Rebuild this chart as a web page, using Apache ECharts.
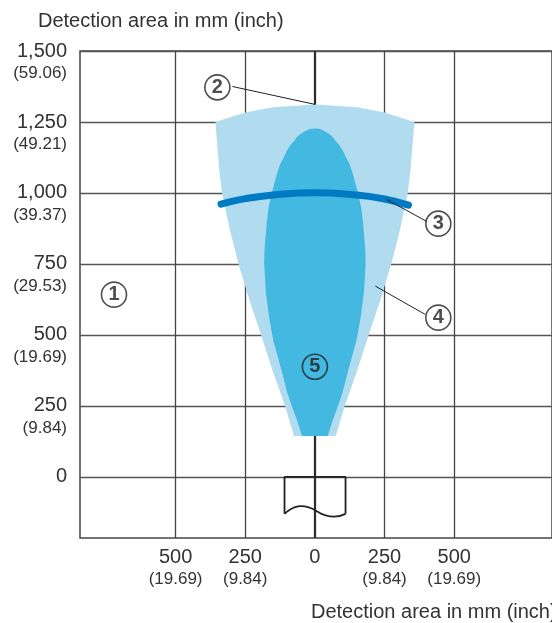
<!DOCTYPE html>
<html><head><meta charset="utf-8">
<script src="https://cdn.jsdelivr.net/npm/echarts@6/dist/echarts.min.js"></script>
<style>html,body{margin:0;padding:0;background:#fff}#c{width:552px;height:623px}</style>
</head><body><div id="c"></div>
<script>
// Tick labels
const xTickValues = [-500, -250, 0, 250, 500];
const xTickMm = ['500', '250', '0', '250', '500'];
const xTickInch = ['(19.69)', '(9.84)', '', '(9.84)', '(19.69)'];
const yTickValues = [0, 250, 500, 750, 1000, 1250, 1500];
const yTickMm = ['0', '250', '500', '750', '1,000', '1,250', '1,500'];
const yTickInch = ['', '(9.84)', '(19.69)', '(29.53)', '(39.37)', '(49.21)', '(59.06)'];

// (4) outer detection field: half width (mm) at distance (mm)
const outerY = [144, 250, 375, 500, 623, 750, 869, 1000, 1068, 1186, 1250];
const outerHalfW = [75, 107, 152, 193, 235, 274, 305, 333, 342, 352, 357];
// top boundary arc of the outer field
const outerTopX = [-357, -250, -150, 0, 150, 250, 357];
const outerTopY = [1250, 1283, 1302, 1312, 1302, 1283, 1250];

// (5) inner field: half width (mm) at distance (mm)
const innerY = [144, 200, 250, 300, 380, 480, 560, 650, 750, 800, 893, 950, 1003, 1068, 1100, 1127, 1150, 1170, 1186, 1195, 1206, 1216, 1224, 1226, 1227];
const innerHalfW = [46, 64, 83, 100, 121, 149, 164, 176, 182, 181, 173, 166, 154, 136, 125, 111, 100, 87, 72, 66, 54, 39, 21, 13, 0];

// (3) scanning distance arc
const arcX = [-337, -250, -150, 0, 150, 250, 336];
const arcY = [961, 980, 993, 1001, 993, 979, 957];

// sensor housing
const bodyX = [-109, -109, 110, 110];
const bodyY = [-130, 0, 0, -130];
const waveX = [-109, -51, 69, 110];
const waveY = [-130, -103, -140, -130];

// centre axis line
const axisLineX = [0, 0];
const axisLineY = [1500, -215];

// numbered markers
const markerLabels = ['1', '2', '3', '4', '5'];
const markerX = [-721, -350, 443, 443, 0];
const markerY = [642, 1372, 892, 561, 388];

// leader lines
const leaderFromX = [-296, 258, 217];
const leaderFromY = [1375, 977, 672];
const leaderToX = [0, 401, 395];
const leaderToY = [1312, 900, 573];

const FONT = "'Liberation Sans', Arial, sans-serif";
const TXT = '#333';

const chart = echarts.init(document.getElementById('c'));

const zip = (xs, ys) => xs.map((x, i) => [x, ys[i]]);

const option = {
  animation: false,
  backgroundColor: '#fff',
  title: [
    { text: 'Detection area in mm (inch)', left: 33, top: 6,
      textStyle: { fontFamily: FONT, fontSize: 20, fontWeight: 'normal', color: TXT } },
    { text: 'Detection area in mm (inch)', left: 306, top: 597,
      textStyle: { fontFamily: FONT, fontSize: 20, fontWeight: 'normal', color: TXT } }
  ],
  grid: { left: 80, right: -2, top: 51, bottom: 85, show: true,
          borderColor: '#444', borderWidth: 1.5, backgroundColor: 'transparent' },
  xAxis: {
    type: 'value', min: -843, max: 851,
    axisLine: { show: false },
    axisTick: { show: false, customValues: xTickValues },
    splitLine: { show: true, lineStyle: { color: '#444', width: 1.3 } },
    axisLabel: {
      customValues: xTickValues, margin: 8,
      formatter: (v) => {
        const i = xTickValues.indexOf(v);
        return xTickInch[i] ? '{a|' + xTickMm[i] + '}\n{b|' + xTickInch[i] + '}' : '{a|' + xTickMm[i] + '}';
      },
      rich: {
        a: { fontFamily: FONT, fontSize: 20, lineHeight: 22, color: TXT },
        b: { fontFamily: FONT, fontSize: 17, lineHeight: 22, color: TXT }
      }
    }
  },
  yAxis: {
    type: 'value', min: -215, max: 1500,
    axisLine: { show: false },
    axisTick: { show: false, customValues: yTickValues },
    splitLine: { show: true, lineStyle: { color: '#555', width: 1.3 } },
    axisLabel: {
      customValues: yTickValues, margin: 13, align: 'right',
      formatter: (v) => {
        const i = yTickValues.indexOf(v);
        return yTickInch[i] ? '{c| }\n{a|' + yTickMm[i] + '}\n{b|' + yTickInch[i] + '}' : '{a|' + yTickMm[i] + '}';
      },
      rich: {
        a: { fontFamily: FONT, fontSize: 20, lineHeight: 22, color: TXT, align: 'right' },
        b: { fontFamily: FONT, fontSize: 17, lineHeight: 22, color: TXT, align: 'right' },
        c: { fontSize: 10, lineHeight: 22 }
      }
    }
  },
  series: [
    { type: 'line', data: zip(axisLineX, axisLineY), symbol: 'none', z: 2, silent: true,
      lineStyle: { color: '#2a2a2a', width: 2 } },
    { type: 'custom', coordinateSystem: 'cartesian2d', data: [[0, 0]], z: 3, silent: true,
      renderItem: (params, api) => {
        const pts = [];
        for (let i = 0; i < outerY.length; i++) pts.push(api.coord([-outerHalfW[i], outerY[i]]));
        for (let i = 0; i < outerTopX.length; i++) pts.push(api.coord([outerTopX[i], outerTopY[i]]));
        for (let i = outerY.length - 1; i >= 0; i--) pts.push(api.coord([outerHalfW[i], outerY[i]]));
        return { type: 'polygon', shape: { points: pts }, style: { fill: '#b1dcf0' } };
      } },
    { type: 'custom', coordinateSystem: 'cartesian2d', data: [[0, 0]], z: 4, silent: true,
      renderItem: (params, api) => {
        const pts = [];
        for (let i = 0; i < innerY.length; i++) pts.push(api.coord([-innerHalfW[i], innerY[i]]));
        for (let i = innerY.length - 2; i >= 0; i--) pts.push(api.coord([innerHalfW[i], innerY[i]]));
        return { type: 'polygon', shape: { points: pts }, style: { fill: '#43b8e1' } };
      } },
    { type: 'line', data: zip(arcX, arcY), symbol: 'none', smooth: true, z: 5, silent: true,
      lineStyle: { color: '#007ac3', width: 7, cap: 'round' } },
    { type: 'line', data: zip(bodyX, bodyY), symbol: 'none', z: 5, silent: true,
      lineStyle: { color: '#222', width: 1.8 } },
    { type: 'line', data: zip(waveX, waveY), symbol: 'none', smooth: true, z: 5, silent: true,
      lineStyle: { color: '#222', width: 1.8 } },
    { type: 'lines', coordinateSystem: 'cartesian2d', z: 6, silent: true,
      lineStyle: { color: '#222', width: 1, opacity: 1 },
      data: leaderFromX.map((x, i) => ({ coords: [[x, leaderFromY[i]], [leaderToX[i], leaderToY[i]]] })) },
    { type: 'scatter', data: zip(markerX, markerY), symbol: 'circle', symbolSize: 25, z: 7, silent: true,
      itemStyle: { color: 'rgba(255,255,255,0)', borderColor: '#222', borderWidth: 1.6 },
      label: { show: true, position: 'inside', formatter: (p) => markerLabels[p.dataIndex],
               fontFamily: FONT, fontSize: 20, fontWeight: 'bold', color: '#222' } }
  ]
};
chart.setOption(option);
</script>
</body></html>
